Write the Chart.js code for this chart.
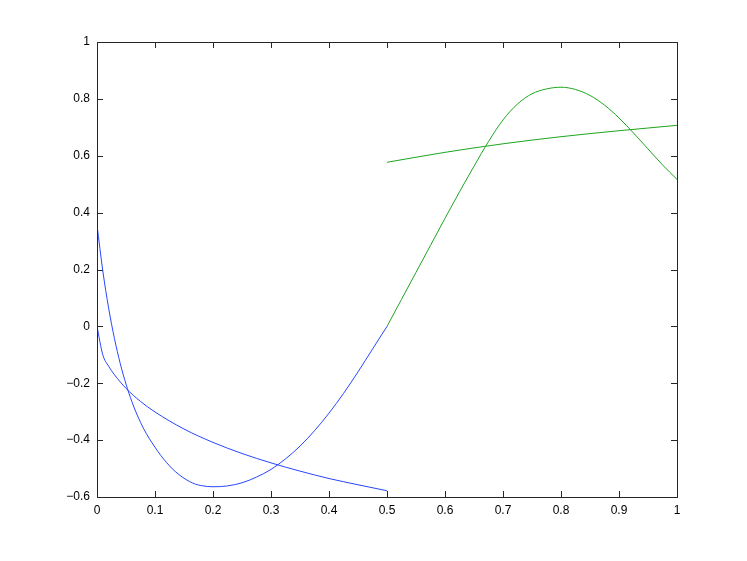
<!DOCTYPE html>
<html>
<head>
<meta charset="utf-8">
<script src="https://cdn.jsdelivr.net/npm/chart.js@4/dist/chart.umd.min.js"></script>
<style>
  body { margin: 0; background: #fff; }
  canvas { display: block; }
</style>
</head>
<body>
<canvas id="myChart" width="747" height="561"></canvas>
<script>
/* valores */
const waveLeftX = [0, 0.01, 0.02, 0.03, 0.04, 0.05, 0.06, 0.07, 0.08, 0.09, 0.1, 0.11, 0.12, 0.13, 0.14, 0.15, 0.16, 0.17, 0.18, 0.19, 0.2, 0.225, 0.25, 0.275, 0.3, 0.325, 0.35, 0.375, 0.4, 0.425, 0.45, 0.475, 0.5];
const waveLeftY = [0.357, 0.195, 0.065, -0.042, -0.13, -0.203, -0.264, -0.315, -0.358, -0.394, -0.425, -0.454, -0.479, -0.501, -0.519, -0.534, -0.546, -0.555, -0.56, -0.563, -0.564, -0.561, -0.55, -0.53, -0.503, -0.466, -0.421, -0.367, -0.305, -0.236, -0.16, -0.08, 0];

const waveRightX = [0.5, 0.525, 0.55, 0.575, 0.6, 0.625, 0.65, 0.675, 0.7, 0.725, 0.75, 0.775, 0.8, 0.825, 0.85, 0.875, 0.9, 0.925, 0.95, 0.975, 1];
const waveRightY = [0, 0.095, 0.19, 0.285, 0.38, 0.473, 0.563, 0.65, 0.726, 0.782, 0.818, 0.835, 0.841, 0.833, 0.812, 0.778, 0.733, 0.68, 0.624, 0.568, 0.517];

const rootLeftX = [0, 0.01, 0.02, 0.03, 0.04, 0.05, 0.075, 0.1, 0.15, 0.2, 0.25, 0.3, 0.35, 0.4, 0.45, 0.5];
const rootLeftY = [0, -0.1, -0.14, -0.17, -0.195, -0.218, -0.264, -0.301, -0.361, -0.408, -0.447, -0.48, -0.509, -0.535, -0.557, -0.578];

const rootRightX = [0.5, 0.6, 0.7, 0.8, 0.9, 1];
const rootRightY = [0.577, 0.612, 0.642, 0.667, 0.688, 0.707];

const xTicks = [0, 0.1, 0.2, 0.3, 0.4, 0.5, 0.6, 0.7, 0.8, 0.9, 1];
const yTicks = [-0.6, -0.4, -0.2, 0, 0.2, 0.4, 0.6, 0.8, 1];

const blue = 'rgb(40, 70, 255)';
const green = 'rgb(30, 165, 30)';

const puntos = (xs, ys) => xs.map((x, i) => ({ x: x, y: ys[i] }));
const etiqueta = (v) => {
    const t = String(Number(v.toFixed(1)));
    return t.replace('-', '\u2212');
};

const serie = (xs, ys, color) => ({
    data: puntos(xs, ys),
    showLine: true,
    borderColor: color,
    borderWidth: 1,
    pointRadius: 0,
    cubicInterpolationMode: 'monotone',
    fill: false
});

/* caja y marcas hacia adentro, estilo matlab */
const cajaPlugin = {
    id: 'caja',
    afterDraw(chart) {
        const ctx = chart.ctx;
        const a = chart.chartArea;
        const sx = chart.scales.x;
        const sy = chart.scales.y;
        const len = 6;
        ctx.save();
        ctx.strokeStyle = '#262626';
        ctx.lineWidth = 1;
        ctx.beginPath();
        xTicks.forEach(v => {
            const px = Math.round(sx.getPixelForValue(v)) + 0.5;
            ctx.moveTo(px, a.bottom);
            ctx.lineTo(px, a.bottom - len);
            ctx.moveTo(px, a.top);
            ctx.lineTo(px, a.top + len);
        });
        yTicks.forEach(v => {
            const py = Math.round(sy.getPixelForValue(v)) + 0.5;
            ctx.moveTo(a.left, py);
            ctx.lineTo(a.left + len, py);
            ctx.moveTo(a.right, py);
            ctx.lineTo(a.right - len, py);
        });
        ctx.stroke();
        ctx.strokeRect(Math.round(a.left) + 0.5, Math.round(a.top) + 0.5,
            Math.round(a.right - a.left), Math.round(a.bottom - a.top));
        ctx.restore();
    }
};

const config = {
    type: 'scatter',
    data: {
        datasets: [
            serie(waveLeftX, waveLeftY, blue),
            serie(rootLeftX, rootLeftY, blue),
            serie(waveRightX, waveRightY, green),
            serie(rootRightX, rootRightY, green)
        ]
    },
    options: {
        responsive: false,
        animation: false,
        layout: { padding: { left: 0, top: 42, right: 70, bottom: 0 } },
        plugins: {
            legend: { display: false },
            tooltip: { enabled: false }
        },
        scales: {
            x: {
                type: 'linear',
                min: 0,
                max: 1,
                afterFit: (s) => { s.height = 64; },
                afterBuildTicks: (s) => { s.ticks = xTicks.map(v => ({ value: v })); },
                grid: { display: false, drawTicks: false },
                border: { display: false },
                ticks: {
                    padding: 6,
                    color: '#000',
                    font: { family: 'Liberation Sans, Arial, sans-serif', size: 12 },
                    callback: etiqueta,
                    maxRotation: 0,
                    autoSkip: false
                }
            },
            y: {
                type: 'linear',
                min: -0.6,
                max: 1,
                afterFit: (s) => { s.width = 97; },
                afterBuildTicks: (s) => { s.ticks = yTicks.map(v => ({ value: v })); },
                grid: { display: false, drawTicks: false },
                border: { display: false },
                ticks: {
                    padding: 7,
                    color: '#000',
                    font: { family: 'Liberation Sans, Arial, sans-serif', size: 12 },
                    callback: etiqueta,
                    autoSkip: false
                }
            }
        }
    },
    plugins: [cajaPlugin]
};

const myChart = new Chart(document.getElementById('myChart'), config);
</script>
</body>
</html>
